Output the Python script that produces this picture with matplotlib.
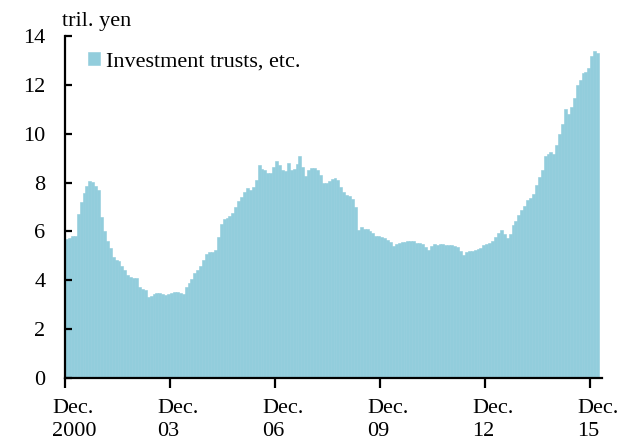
import matplotlib.pyplot as plt
import matplotlib.transforms as mtransforms
import numpy as np

# monthly amounts outstanding, Dec 2000 - Feb 2016 (tril. yen)
values = [
    5.67, 5.72, 5.80, 5.82, 6.72, 7.22, 7.58, 7.88, 8.06, 8.02,
    7.88, 7.70, 6.60, 6.00, 5.60, 5.31, 4.97, 4.83, 4.78, 4.60,
    4.42, 4.23, 4.12, 4.10, 4.08, 3.71, 3.64, 3.60, 3.30, 3.35,
    3.43, 3.46, 3.46, 3.43, 3.41, 3.45, 3.50, 3.52, 3.54, 3.50,
    3.45, 3.71, 3.87, 4.05, 4.28, 4.42, 4.60, 4.85, 5.08, 5.14,
    5.17, 5.22, 5.79, 6.31, 6.49, 6.55, 6.62, 6.75, 7.02, 7.24,
    7.40, 7.60, 7.77, 7.68, 7.81, 8.10, 8.70, 8.57, 8.50, 8.40,
    8.40, 8.63, 8.87, 8.73, 8.50, 8.46, 8.81, 8.50, 8.54, 8.77,
    9.08, 8.63, 8.26, 8.50, 8.59, 8.59, 8.50, 8.32, 7.99, 7.99,
    8.05, 8.13, 8.20, 8.10, 7.81, 7.61, 7.50, 7.44, 7.33, 7.02,
    6.07, 6.17, 6.10, 6.10, 6.03, 5.92, 5.83, 5.83, 5.79, 5.72,
    5.65, 5.55, 5.40, 5.50, 5.54, 5.55, 5.57, 5.60, 5.60, 5.61,
    5.54, 5.54, 5.50, 5.35, 5.24, 5.42, 5.49, 5.45, 5.47, 5.47,
    5.43, 5.43, 5.43, 5.42, 5.38, 5.21, 5.05, 5.14, 5.19, 5.21,
    5.25, 5.28, 5.32, 5.45, 5.50, 5.53, 5.60, 5.79, 5.92, 6.06,
    5.90, 5.73, 5.90, 6.28, 6.44, 6.69, 6.88, 7.06, 7.29, 7.38,
    7.54, 7.92, 8.22, 8.53, 9.07, 9.15, 9.25, 9.15, 9.52, 10.00,
    10.41, 11.03, 10.82, 11.10, 11.48, 11.99, 12.19, 12.49, 12.53, 12.67,
    13.18, 13.40, 13.31,
]
tick_months = [0, 36, 72, 108, 144, 180]
tick_labels = ["Dec.\n2000", "Dec.\n03", "Dec.\n06", "Dec.\n09", "Dec.\n12", "Dec.\n15"]
series_name = "Investment trusts, etc."

color = "#92CDDC"
plt.rcParams["font.family"] = ["Liberation Serif", "DejaVu Serif"]
plt.rcParams["font.size"] = 16

fig = plt.figure(figsize=(6.28, 4.41), dpi=100)
ax = fig.add_axes([65 / 628, 1 - 378 / 441, 537 / 628, 342 / 441])

x = np.arange(len(values))
ax.bar(x, values, width=1.0, align="edge", color=color, edgecolor=color,
       linewidth=0.4, label=series_name)

ax.set_xlim(0, 184)
ax.set_ylim(0, 14)
ax.set_yticks(np.arange(0, 15, 2))
ax.set_xticks(tick_months)
ax.set_xticklabels(tick_labels)

for side in ["top", "right"]:
    ax.spines[side].set_visible(False)
for side in ["left", "bottom"]:
    ax.spines[side].set_linewidth(1.6)

ax.tick_params(axis="y", direction="in", length=5, width=1.6, pad=14)
ax.tick_params(axis="x", direction="out", length=7, width=1.6, pad=8)

shift = mtransforms.ScaledTranslation(-13 / 100, 0, fig.dpi_scale_trans)
for lab in ax.get_xticklabels():
    lab.set_horizontalalignment("left")
    lab.set_multialignment("left")
    lab.set_linespacing(1.3)
    lab.set_transform(lab.get_transform() + shift)

fig.text(62 / 628, 1 - 26 / 441, "tril. yen", ha="left", va="baseline")

ax.legend(loc="upper left", bbox_to_anchor=(23 / 537, 1 - 16 / 342),
          frameon=False, borderaxespad=0, borderpad=0,
          handlelength=0.55, handleheight=0.55, handletextpad=0.25)

fig.savefig("out.png", dpi=100)
